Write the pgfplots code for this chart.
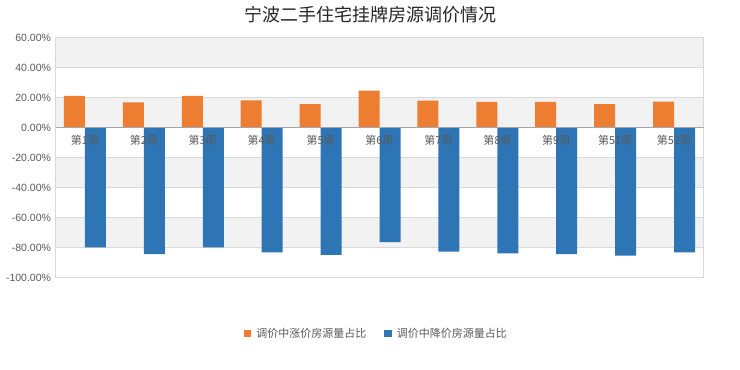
\documentclass[border=0pt]{standalone}
\usepackage{pgfplots}
\pgfplotsset{compat=1.18}
\usepackage{fontspec}
\setmainfont{Liberation Sans}
\newfontfamily\cjk{Noto Sans CJK SC}
\definecolor{orng}{HTML}{ED7D31}
\definecolor{blu}{HTML}{2E75B6}
\definecolor{band}{HTML}{F2F2F2}
\definecolor{gridc}{HTML}{D9D9D9}
\definecolor{txt}{HTML}{595959}
\tikzset{wk/.style={anchor=north, font=\cjk\fontsize{11}{12}\selectfont, text=txt, inner sep=0pt, yshift=-7.5pt}}
\pgfplotsset{bandst/.style={fill=band, draw=none, forget plot, on layer=axis background}}
\begin{document}
\begin{tikzpicture}
\path (0,0) rectangle (740pt,370pt);
\begin{axis}[
  at={(55.5pt,92.5pt)}, anchor=south west,
  scale only axis, width=648pt, height=240pt,
  set layers,
  xmin=-0.5, xmax=10.5, ymin=-100, ymax=60,
  ytick={-100,-80,...,60},
  yticklabels={-100.00\%,-80.00\%,-60.00\%,-40.00\%,-20.00\%,0.00\%,20.00\%,40.00\%,60.00\%},
  yticklabel style={font=\fontsize{10.5}{12}\selectfont, text=txt, xshift=-1pt},
  /pgf/number format/assume math mode=true,
  xtick=\empty,
  ymajorgrids, grid style={gridc, line width=0.6pt},
  major tick length=0pt,
  axis line style={gridc, line width=0.8pt},
  legend style={at={(0.495,-0.233)}, anchor=center, draw=none, legend columns=2,
    font=\cjk\fontsize{11}{12}\selectfont, text=txt,
    /tikz/every odd column/.append style={column sep=3pt},
    /tikz/every even column/.append style={column sep=16pt}},
  legend image code/.code={\fill[#1] (0pt,-3.8pt) rectangle (7.6pt,3.8pt);},
]
\addplot[bandst] coordinates {(-0.5,40) (10.5,40) (10.5,60) (-0.5,60)};
\addplot[bandst] coordinates {(-0.5,0) (10.5,0) (10.5,20) (-0.5,20)};
\addplot[bandst] coordinates {(-0.5,-40) (10.5,-40) (10.5,-20) (-0.5,-20)};
\addplot[bandst] coordinates {(-0.5,-80) (10.5,-80) (10.5,-60) (-0.5,-60)};
\addplot[ybar, bar width=21pt, bar shift=-10.5pt, fill=orng, draw=none] coordinates {
(0,21.0) (1,16.8) (2,21.0) (3,18.0) (4,15.6) (5,24.6) (6,17.9) (7,17.0) (8,17.0) (9,15.6) (10,17.3)};
\addlegendentry{调价中涨价房源量占比}
\addplot[ybar, bar width=21pt, bar shift=10.5pt, fill=blu, draw=none] coordinates {
(0,-80.0) (1,-84.4) (2,-80.0) (3,-83.3) (4,-84.9) (5,-76.4) (6,-82.7) (7,-84.0) (8,-84.4) (9,-85.5) (10,-83.3)};
\addlegendentry{调价中降价房源量占比}
\draw[color=black!35, line width=0.9pt] (axis cs:-0.5,0) -- (axis cs:10.5,0);
\node[wk] at (axis cs:0,0) {第1周};
\node[wk] at (axis cs:1,0) {第2周};
\node[wk] at (axis cs:2,0) {第3周};
\node[wk] at (axis cs:3,0) {第4周};
\node[wk] at (axis cs:4,0) {第5周};
\node[wk] at (axis cs:5,0) {第6周};
\node[wk] at (axis cs:6,0) {第7周};
\node[wk] at (axis cs:7,0) {第8周};
\node[wk] at (axis cs:8,0) {第9周};
\node[wk] at (axis cs:9,0) {第51周};
\node[wk] at (axis cs:10,0) {第52周};
\end{axis}
\node[font=\cjk\fontsize{18}{20}\selectfont, text=black!85] at (370pt,355pt) {宁波二手住宅挂牌房源调价情况};
\end{tikzpicture}
\end{document}
